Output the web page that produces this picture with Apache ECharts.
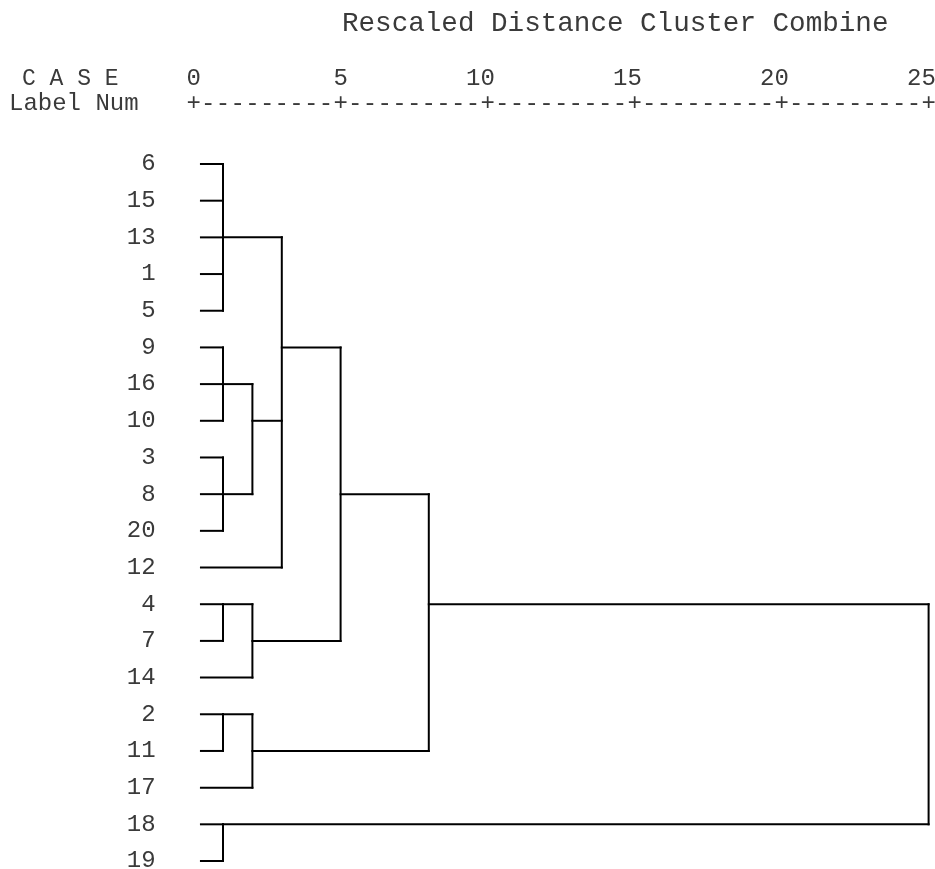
<!DOCTYPE html>
<html>
<head>
<meta charset="utf-8">
<title>Dendrogram</title>
<script src="https://cdn.jsdelivr.net/npm/echarts@6/dist/echarts.min.js"></script>
<style>
  html, body { margin: 0; padding: 0; background: #fff; }
  #chart { width: 935px; height: 869px; }
</style>
</head>
<body>
<div id="chart"></div>
<script>
// Case labels in dendrogram order, top to bottom
const caseLabels = ['6', '15', '13', '1', '5', '9', '16', '10', '3', '8', '20', '12', '4', '7', '14', '2', '11', '17', '18', '19'];

// Cluster nodes: members are leaf rows (numbers) or earlier nodes ('n<i>')
const nodeMembers = [
  [0, 1, 2, 3, 4],
  [5, 6, 7],
  [8, 9, 10],
  ['n1', 'n2'],
  ['n0', 'n3', 11],
  [12, 13],
  ['n5', 14],
  ['n4', 'n6'],
  [15, 16],
  ['n8', 17],
  ['n7', 'n9'],
  [18, 19],
  ['n10', 'n11']
];
// Rescaled distance at which each node joins
const nodeHeights = [1, 1, 1, 2, 3, 1, 2, 5, 1, 2, 8, 1, 25];
// Row from which each node's link to its parent is drawn
const nodeRows = [2, 6, 9, 7, 5, 12, 13, 9, 15, 16, 12, 18, null];

// Distance scale
const tickValues = [0, 5, 10, 15, 20, 25];
const tickLabels = ['0', '5', '10', '15', '20', '25'];
const leafStart = 0.25;

const FONT = "'Liberation Mono', 'Courier New', monospace";
const TEXT = '#3a3a3a';

function rowOf(m) {
  return typeof m === 'number' ? m : nodeRows[+m.slice(1)];
}
function heightOf(m) {
  return typeof m === 'number' ? leafStart : nodeHeights[+m.slice(1)];
}

// Segments [x1, y1, x2, y2] in (distance, row) units
const segments = [];
nodeMembers.forEach(function (members, i) {
  const h = nodeHeights[i];
  const rows = members.map(rowOf);
  segments.push([h, Math.min.apply(null, rows), h, Math.max.apply(null, rows)]);
  members.forEach(function (m) {
    const r = rowOf(m);
    segments.push([heightOf(m), r, h, r]);
  });
});

const chart = echarts.init(document.getElementById('chart'), null, { renderer: 'canvas' });

chart.setOption({
  animation: false,
  backgroundColor: '#fff',
  title: {
    text: 'Rescaled Distance Cluster Combine',
    left: 342,
    top: 10,
    padding: 0,
    textStyle: { fontFamily: FONT, fontSize: 27.6, fontWeight: 'normal', color: TEXT, lineHeight: 28 }
  },
  graphic: [
    {
      type: 'text', left: 22, top: 67,
      style: { text: 'C A S E', font: '23px ' + FONT, fill: TEXT }
    },
    {
      type: 'text', left: 9, top: 92,
      style: { text: 'Label Num', font: '24px ' + FONT, fill: TEXT }
    }
  ],
  grid: { left: 193.6, right: 6.4, top: 164, bottom: 8, containLabel: false, outerBoundsMode: 'none' },
  xAxis: [
    {
      type: 'value', position: 'top', min: 0, max: 25, interval: 5,
      axisLine: { show: false }, axisTick: { show: false }, splitLine: { show: false },
      axisLabel: {
        margin: 85, verticalAlign: 'middle', align: 'center',
        fontFamily: FONT, fontSize: 24, color: TEXT,
        formatter: function (v) {
          const s = tickLabels[tickValues.indexOf(v)];
          // keep the last digit centred on the tick mark
          return s.length > 1 ? s + ' ' : s;
        }
      }
    },
    {
      type: 'value', position: 'top', min: 0, max: 25, interval: 0.5,
      axisLine: { show: false }, axisTick: { show: false }, splitLine: { show: false },
      axisLabel: {
        margin: 60, verticalAlign: 'middle', align: 'center',
        fontFamily: FONT, fontSize: 24, color: TEXT,
        formatter: function (v) { return v % 5 === 0 ? '+' : '-'; }
      }
    }
  ],
  yAxis: {
    type: 'value', inverse: true, min: 0, max: caseLabels.length - 1, interval: 1,
    axisLine: { show: false }, axisTick: { show: false }, splitLine: { show: false },
    axisLabel: {
      margin: 38, fontFamily: FONT, fontSize: 24, color: TEXT,
      formatter: function (v) { return caseLabels[Math.round(v)]; }
    }
  },
  series: [{
    type: 'custom',
    xAxisIndex: 0,
    yAxisIndex: 0,
    clip: false,
    data: segments,
    encode: { x: [0, 2], y: [1, 3] },
    renderItem: function (params, api) {
      const p1 = api.coord([api.value(0), api.value(1)]);
      const p2 = api.coord([api.value(2), api.value(3)]);
      return {
        type: 'line',
        shape: { x1: p1[0], y1: p1[1], x2: p2[0], y2: p2[1] },
        style: { stroke: '#000', lineWidth: 2, lineCap: 'square' }
      };
    }
  }]
});
</script>
</body>
</html>
